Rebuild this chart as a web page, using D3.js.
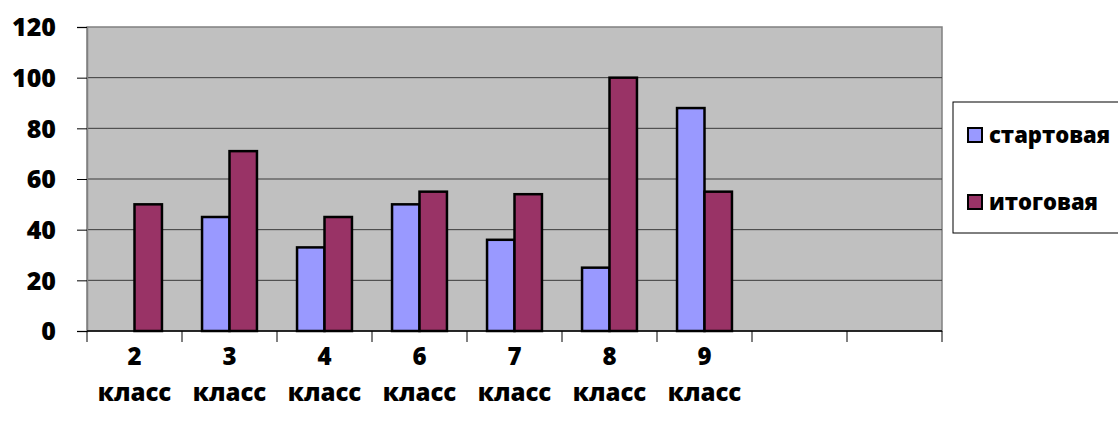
<!DOCTYPE html>
<html>
<head>
<meta charset="utf-8">
<script src="https://cdn.jsdelivr.net/npm/d3@7"></script>
<style>
    body { margin: 0; background: #fff; }
    text { font-family: "Open Sans", Lato, sans-serif; font-weight: 800; fill: #000; }
</style>
</head>
<body>
<div id="chart"></div>
<script>
// categories (two last slots are empty in the source chart)
const categories = ["2", "3", "4", "6", "7", "8", "9", "", " "];
const seriesNames = ["стартовая", "итоговая"];
const startValues = [null, 45, 33, 50, 36, 25, 88, null, null];
const finalValues = [50, 71, 45, 55, 54, 100, 55, null, null];
const yTicks = [0, 20, 40, 60, 80, 100, 120];
const COLORS = ["#9999ff", "#993366"];

const W = 1118, H = 423;
const plot = { left: 87, top: 27, right: 942, bottom: 331 };

let svg = d3.select("#chart").append("svg")
    .attr("width", W)
    .attr("height", H);

let x = d3.scaleBand()
    .domain(categories)
    .range([plot.left, plot.right]);
let y = d3.scaleLinear()
    .domain([0, 120])
    .range([plot.bottom, plot.top]);

// plot background
svg.append("rect")
    .attr("x", plot.left).attr("y", plot.top)
    .attr("width", plot.right - plot.left)
    .attr("height", plot.bottom - plot.top)
    .attr("fill", "#c0c0c0")
    .attr("stroke", "#808080")
    .attr("stroke-width", 1.5);

// gridlines
svg.append("g")
    .selectAll("line")
    .data(yTicks.filter(d => d > 0 && d < 120))
    .enter().append("line")
    .attr("x1", plot.left).attr("x2", plot.right)
    .attr("y1", d => y(d)).attr("y2", d => y(d))
    .attr("stroke", "#3a3a3a")
    .attr("stroke-width", 1);

// bars
let inner = d3.scaleBand()
    .domain([0, 1])
    .range([0, x.bandwidth()])
    .paddingInner(0)
    .paddingOuter(0.73);

const series = [startValues, finalValues];
series.forEach(function (vals, s) {
    svg.append("g")
        .selectAll("rect")
        .data(categories.map((c, i) => ({ cat: c, v: vals[i] })).filter(d => d.v != null))
        .enter().append("rect")
        .attr("x", d => x(d.cat) + inner(s))
        .attr("y", d => y(d.v))
        .attr("width", inner.bandwidth())
        .attr("height", d => y(0) - y(d.v))
        .attr("fill", COLORS[s])
        .attr("stroke", "#000")
        .attr("stroke-width", 2.5);
});

// y axis
let yAxis = svg.append("g")
    .attr("transform", "translate(" + plot.left + ",0)")
    .call(d3.axisLeft(y).tickValues(yTicks).tickSize(10).tickPadding(21));
yAxis.select(".domain").attr("stroke", "#808080").attr("stroke-width", 1.5);
yAxis.selectAll(".tick line").attr("stroke", "#000");
yAxis.selectAll(".tick text")
    .style("font-size", "25px")
    .attr("dy", "0.35em");

// x axis
let xAxis = svg.append("g")
    .attr("transform", "translate(0," + plot.bottom + ")");
xAxis.append("line")
    .attr("x1", plot.left).attr("x2", plot.right)
    .attr("stroke", "#000").attr("stroke-width", 1.5);
const tickPos = categories.map(c => x(c)).concat([plot.right]);
xAxis.selectAll(".xt")
    .data(tickPos)
    .enter().append("line")
    .attr("x1", d => d).attr("x2", d => d)
    .attr("y1", 0).attr("y2", 11)
    .attr("stroke", "#000").attr("stroke-width", 1);

let labels = xAxis.selectAll(".xl")
    .data(categories.filter(c => c.trim() !== ""))
    .enter().append("text")
    .attr("text-anchor", "middle")
    .style("font-size", "24px");
labels.append("tspan")
    .attr("x", d => x(d) + x.bandwidth() / 2)
    .attr("y", 34)
    .text(d => d);
labels.append("tspan")
    .attr("x", d => x(d) + x.bandwidth() / 2)
    .attr("y", 70)
    .text("класс");

// legend
let legend = svg.append("g");
legend.append("rect")
    .attr("x", 953).attr("y", 102)
    .attr("width", 170).attr("height", 131)
    .attr("fill", "#fff")
    .attr("stroke", "#000")
    .attr("stroke-width", 1);
let items = legend.selectAll(".li")
    .data(seriesNames)
    .enter().append("g")
    .attr("transform", (d, i) => "translate(968," + (128 + i * 67) + ")");
items.append("rect")
    .attr("width", 14).attr("height", 14)
    .attr("fill", (d, i) => COLORS[i])
    .attr("stroke", "#000")
    .attr("stroke-width", 2);
items.append("text")
    .attr("x", 21).attr("y", 7)
    .attr("dy", "0.35em")
    .style("font-size", "22px")
    .text(d => d);
</script>
</body>
</html>
